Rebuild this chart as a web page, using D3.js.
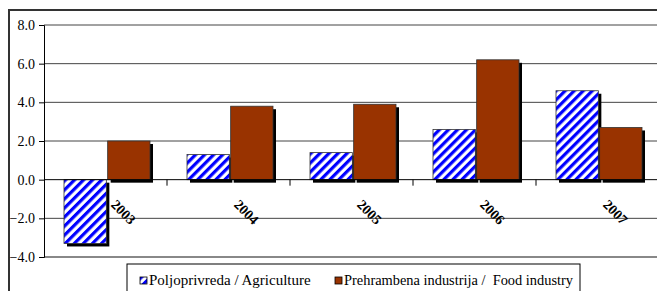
<!DOCTYPE html>
<html lang="en">
<head>
  <meta charset="UTF-8">
  <title>Agriculture / Food industry</title>
  <script src="https://d3js.org/d3.v7.min.js"></script>
</head>
<body style="margin: 0; overflow: hidden; background: #fff;">

<script>
  //Chart data
  const years = ['2003', '2004', '2005', '2006', '2007'];
  const series = ['Poljoprivreda / Agriculture', 'Prehrambena industrija /\u00a0 Food industry'];
  const agriculture = [-3.3, 1.3, 1.4, 2.6, 4.6];
  const foodIndustry = [2.0, 3.8, 3.9, 6.2, 2.7];
  const yTicks = [-4, -2, 0, 2, 4, 6, 8];

  const width = 657, height = 291;
  const font = "'Liberation Serif', serif";

  const svg = d3.select('body').append('svg')
    .attr('width', width)
    .attr('height', height)
    .attr('font-family', font);

  //Striped pattern for agriculture
  const defs = svg.append('defs');
  const pat = defs.append('pattern')
    .attr('id', 'stripes')
    .attr('patternUnits', 'userSpaceOnUse')
    .attr('width', 6.4)
    .attr('height', 6.4)
    .attr('patternTransform', 'rotate(45)');
  pat.append('rect').attr('width', 6.4).attr('height', 6.4).attr('fill', '#fff');
  pat.append('rect').attr('width', 3.2).attr('height', 6.4).attr('fill', '#0000ff');

  const fills = ['url(#stripes)', '#993300'];

  //Outer frame
  svg.append('rect')
    .attr('x', 9).attr('y', 10)
    .attr('width', 700).attr('height', 320)
    .attr('fill', 'none')
    .attr('stroke', '#333')
    .attr('stroke-width', 2);

  //Scales
  const x = d3.scaleBand().domain(years).range([44, 659]);
  const x1 = d3.scaleBand().domain(series).range([20, 106]).paddingInner(0.03);
  const y = d3.scaleLinear().domain([-4, 8]).range([257, 25]);

  //Gridlines
  svg.append('g')
    .selectAll('line')
    .data(yTicks.filter(d => d !== -4 && d !== 0))
    .join('line')
    .attr('x1', 44).attr('x2', width)
    .attr('y1', d => y(d)).attr('y2', d => y(d))
    .attr('stroke', '#444')
    .attr('stroke-width', 1);

  //Bottom border of plot
  svg.append('line')
    .attr('x1', 44).attr('x2', width)
    .attr('y1', y(-4)).attr('y2', y(-4))
    .attr('stroke', '#888')
    .attr('stroke-width', 2);

  //Y axis
  const yAxis = svg.append('g')
    .attr('transform', 'translate(44,0)')
    .call(d3.axisLeft(y).tickValues(yTicks).tickFormat(d3.format('.1f')).tickSize(5).tickPadding(4));
  yAxis.attr('font-family', font).attr('font-size', 14);
  yAxis.select('.domain').attr('stroke', '#000');
  yAxis.selectAll('.tick line').attr('stroke', '#000');
  yAxis.selectAll('text').attr('fill', '#000');

  //Bars
  const rows = years.map((yr, i) => [agriculture[i], foodIndustry[i]].map((v, j) => ({ yr, s: series[j], v, j })));
  const groups = svg.append('g')
    .selectAll('g')
    .data(rows)
    .join('g')
    .attr('transform', d => `translate(${x(d[0].yr)},0)`);

  //Shadows
  groups.selectAll('rect.shadow')
    .data(d => d)
    .join('rect')
    .attr('class', 'shadow')
    .attr('x', d => x1(d.s) + 3)
    .attr('y', d => Math.min(y(d.v), y(0)) + 3)
    .attr('width', x1.bandwidth())
    .attr('height', d => Math.abs(y(d.v) - y(0)))
    .attr('fill', '#000');

  groups.selectAll('rect.bar')
    .data(d => d)
    .join('rect')
    .attr('class', 'bar')
    .attr('x', d => x1(d.s))
    .attr('y', d => Math.min(y(d.v), y(0)))
    .attr('width', x1.bandwidth())
    .attr('height', d => Math.abs(y(d.v) - y(0)))
    .attr('fill', d => fills[d.j])
    .attr('stroke', '#333')
    .attr('stroke-width', 0.8);

  //Category axis at zero
  const xAxis = svg.append('g')
    .attr('transform', `translate(0,${y(0)})`)
    .call(d3.axisBottom(x).tickSize(6).tickFormat(''));
  xAxis.select('.domain').attr('stroke', '#000').attr('d', `M44,0H${width}`);
  //Ticks between categories
  xAxis.selectAll('.tick line')
    .attr('stroke', '#000')
    .attr('x1', x.bandwidth() / 2).attr('x2', x.bandwidth() / 2);

  //Year labels rotated
  svg.append('g')
    .selectAll('text')
    .data(years)
    .join('text')
    .attr('transform', d => `translate(${x(d) + x.bandwidth() / 2 + 18},212) rotate(45)`)
    .attr('text-anchor', 'middle')
    .attr('dy', '0.35em')
    .attr('font-size', 14)
    .attr('font-weight', 'bold')
    .text(d => d);

  //Legend
  const legend = svg.append('g');
  legend.append('rect')
    .attr('x', 127).attr('y', 264)
    .attr('width', 453).attr('height', 40)
    .attr('fill', '#fff')
    .attr('stroke', '#000')
    .attr('stroke-width', 1);

  const legX = [140, 335];
  const legSize = [15, 14.4];
  series.forEach((s, i) => {
    legend.append('rect')
      .attr('x', legX[i]).attr('y', 277)
      .attr('width', 7).attr('height', 7)
      .attr('fill', fills[i])
      .attr('stroke', '#000')
      .attr('stroke-width', 0.8);
    legend.append('text')
      .attr('x', legX[i] + 9)
      .attr('y', 285)
      .attr('font-size', legSize[i])
      .text(s);
  });
</script>

</body>
</html>
